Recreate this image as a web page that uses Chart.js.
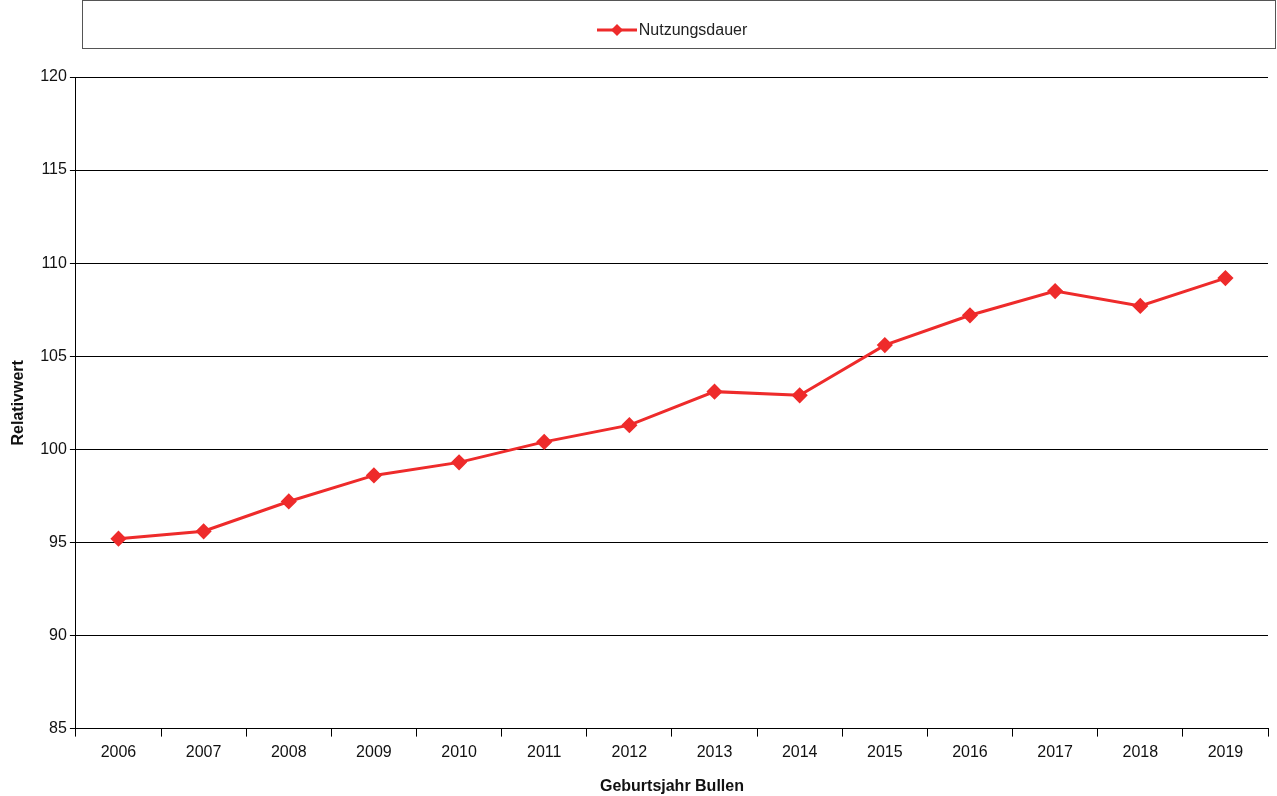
<!DOCTYPE html>
<html>
<head>
<meta charset="utf-8">
<script src="https://cdn.jsdelivr.net/npm/chart.js@4"></script>
<style>
  body { margin: 0; background: #fff; font-family: "Liberation Sans", Arial, sans-serif; }
  #wrap { position: relative; width: 1277px; height: 796px; }
  #legend { position: absolute; left: 82px; top: 0px; width: 1194px; height: 49px; border: 1px solid #555; box-sizing: border-box;
    display: flex; align-items: center; justify-content: center; font-size: 16px; color: #222; padding-top: 10px; padding-right: 14px; }
  #legend svg { margin-right: 2px; }
</style>
</head>
<body>
<div id="wrap">
  <canvas id="chart" width="1277" height="796"></canvas>
  <div id="legend">
    <svg width="40" height="14"><line x1="0" y1="7" x2="40" y2="7" stroke="#ee2b2b" stroke-width="3"/>
      <polygon points="20,1 26,7 20,13 14,7" fill="#ee2b2b"/></svg>
    <span>Nutzungsdauer</span>
  </div>
</div>
<script>
const years = ['2006','2007','2008','2009','2010','2011','2012','2013','2014','2015','2016','2017','2018','2019'];
const nutzungsdauer = [95.2, 95.6, 97.2, 98.6, 99.3, 100.4, 101.3, 103.1, 102.9, 105.6, 107.2, 108.5, 107.7, 109.2];

const ctx = document.getElementById('chart').getContext('2d');
new Chart(ctx, {
    type: 'line',
    data: {
        labels: years,
        datasets: [{
            label: 'Nutzungsdauer',
            data: nutzungsdauer,
            borderColor: '#ee2b2b',
            backgroundColor: '#ee2b2b',
            borderWidth: 3,
            pointStyle: 'rectRot',
            pointRadius: 6,
            tension: 0,
            fill: false,
        }],
    },
    options: {
        responsive: false,
        animation: false,
        layout: { padding: { top: 77, right: 0, left: 9, bottom: 0 } },
        plugins: { legend: { display: false }, tooltip: { enabled: false } },
        scales: {
            x: {
                offset: true,
                grid: { offset: true, drawOnChartArea: false, color: '#000', tickLength: 8 },
                border: { color: '#000' },
                ticks: { color: '#111', font: { size: 16, family: 'Liberation Sans' }, padding: 6 },
                title: { display: true, text: 'Geburtsjahr Bullen', color: '#111',
                    font: { size: 16, weight: 'bold', family: 'Liberation Sans' }, padding: { top: 9, bottom: 0 } },
            },
            y: {
                min: 85, max: 120,
                ticks: { stepSize: 5, color: '#111', font: { size: 16, family: 'Liberation Sans' } },
                grid: { color: '#000', tickLength: 6 },
                border: { color: '#000' },
                title: { display: true, text: 'Relativwert', color: '#111',
                    font: { size: 16, weight: 'bold', family: 'Liberation Sans' }, padding: { top: 0, bottom: 9 } },
            },
        },
    },
});
</script>
</body>
</html>
